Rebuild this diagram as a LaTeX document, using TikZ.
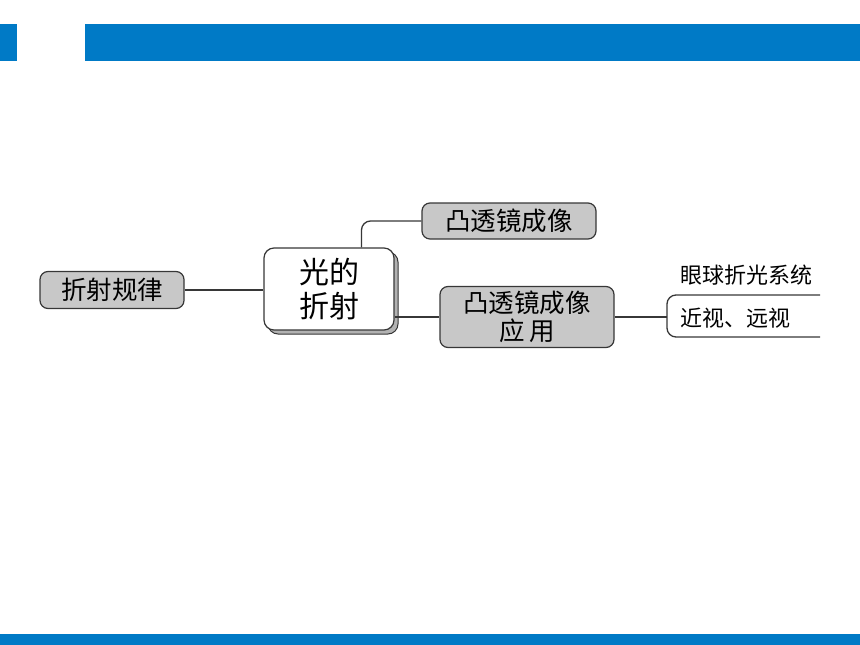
\documentclass[tikz,border=0pt]{standalone}
\usepackage{fontspec}
\setmainfont{Noto Sans CJK SC}
\usetikzlibrary{shadows}
\definecolor{barblue}{RGB}{0,122,198}
\definecolor{boxgray}{RGB}{200,200,200}
\definecolor{linegray}{RGB}{55,55,55}
\tikzset{
  topic/.style={draw=linegray, line width=1.2pt, fill=boxgray, rounded corners=8pt,
    inner sep=0pt, align=center, font=\fontsize{25.5}{28}\selectfont},
  central/.style={draw=linegray, line width=1.2pt, fill=white, rounded corners=10pt,
    inner sep=0pt, align=center, font=\fontsize{30}{34}\selectfont,
    general shadow={fill=gray!60, draw=linegray, line width=1pt, shadow xshift=4pt, shadow yshift=-4pt}},
  leaf/.style={inner sep=0pt, font=\fontsize{22}{24}\selectfont},
  link/.style={draw=linegray, line width=1.3pt}
}
\begin{document}
\begin{tikzpicture}[x=1pt,y=-1pt]
  \useasboundingbox (0,0) rectangle (860,645);
  % bars
  \fill[barblue] (0,24) rectangle (17,61);
  \fill[barblue] (85,24) rectangle (860,61);
  \fill[barblue] (0,634) rectangle (860,645);
  % nodes
  \node[central, minimum width=130pt, minimum height=82pt] (cen) at (329,289) {光的\\折射};
  \node[topic, minimum width=144pt, minimum height=37pt] (law) at (112,290) {折射规律};
  \node[topic, minimum width=174pt, minimum height=36pt] (img) at (509,221) {凸透镜成像};
  \node[topic, minimum width=174pt, minimum height=61pt] (app) at (527,317) {凸透镜成像\\应\,用};
  \node[leaf] (eye) at (746,275) {眼球折光系统};
  \node[leaf] (sight) at (735,318) {近视、远视};
  \coordinate (brk) at (667,317);
  \coordinate (bt) at (820,295);
  \coordinate (bb) at (820,337);
  % connectors
  \draw[link] (law.east) -- (law.east -| cen.west);
  \draw[link, rounded corners=9pt] (cen.52) |- (img.west);
  \draw[link] (app.west -| cen.east) -- (app.west);
  \draw[link] (app.east) -- (brk);
  \draw[link, rounded corners=9pt] (bt) -| (brk) |- (bb);
  %\draw[link] (brk) -- (bb);
\end{tikzpicture}
\end{document}
